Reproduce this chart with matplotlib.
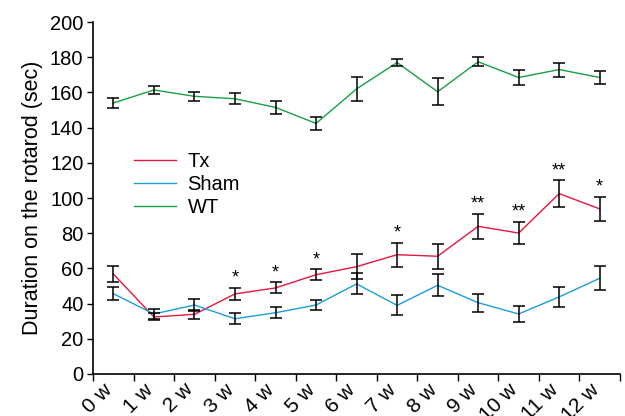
import numpy as np
import matplotlib.pyplot as plt
import matplotlib.transforms as mtransforms

plt.rcParams["font.family"] = ["Liberation Sans", "DejaVu Sans"]

weeks = [f"{i} w" for i in range(13)]
tx_mean = [56.8, 32.4, 33.9, 45.5, 48.9, 56.4, 61.0, 67.8, 66.9, 83.9, 80.1, 102.5, 93.8]
tx_err = [4.4, 2.0, 2.5, 3.5, 3.1, 3.0, 7.0, 6.8, 7.2, 7.3, 6.2, 7.5, 7.0]
sham_mean = [45.6, 34.1, 39.2, 31.4, 34.8, 39.2, 51.2, 39.0, 50.4, 40.5, 34.1, 43.8, 54.4]
sham_err = [3.8, 3.0, 3.6, 3.0, 3.1, 3.1, 6.0, 5.7, 6.2, 5.2, 4.4, 5.5, 6.7]
wt_mean = [154.0, 161.4, 157.8, 156.4, 151.5, 142.4, 162.0, 177.0, 160.4, 177.4, 168.5, 173.0, 168.5]
wt_err = [3.1, 2.4, 2.5, 3.2, 3.6, 3.5, 6.6, 2.0, 7.6, 2.5, 4.5, 4.0, 3.8]
stars = ["", "", "", "*", "*", "*", "", "*", "", "**", "**", "**", "*"]

red = "#e5173f"
blue = "#1e9ddb"
green = "#16a045"

fig = plt.figure(figsize=(6.25, 4.16), dpi=100)
ax = fig.add_axes([0.149, 0.101, 0.843, 0.846])

x = np.arange(len(weeks)) + 0.5

for mean, err, col, lab in [
    (tx_mean, tx_err, red, "Tx"),
    (sham_mean, sham_err, blue, "Sham"),
    (wt_mean, wt_err, green, "WT"),
]:
    ax.plot(x, mean, color=col, lw=1.0, label=lab, zorder=2)
    ax.errorbar(x, mean, yerr=err, fmt="none", ecolor="black",
                elinewidth=1.1, capsize=4.3, capthick=1.1, zorder=3)

for xi, m, e, s in zip(x, tx_mean, tx_err, stars):
    if s:
        ax.annotate(s, (xi, m + e), xytext=(0, 1), textcoords="offset points",
                    ha="center", va="bottom", fontsize=13)

ax.set_xlim(0, 13)
ax.set_ylim(0, 200)
ax.set_yticks(np.arange(0, 201, 20))
ax.set_xticks(np.arange(14))
ax.set_xticklabels([])
# week labels end a little right of their ticks in the original
lab_tf = ax.get_xaxis_transform() + mtransforms.ScaledTranslation(
    23 / 100, -6 / 100, fig.dpi_scale_trans)
for k, w in enumerate(weeks):
    ax.text(k, 0, w, transform=lab_tf, rotation=45, ha="right", va="top",
            fontsize=15)
ax.tick_params(axis="y", labelsize=14.5, length=4, width=1, pad=3)
ax.tick_params(axis="x", length=5, width=1)
ax.set_ylabel("Duration on the rotarod (sec)", fontsize=15.5, labelpad=5)

for side in ["top", "right"]:
    ax.spines[side].set_visible(False)
for side in ["left", "bottom"]:
    ax.spines[side].set_linewidth(1.2)

ax.legend(loc="upper left", bbox_to_anchor=(0.078, 0.63), frameon=False,
          fontsize=14.5, handlelength=2.05, handletextpad=0.6,
          labelspacing=0.2, borderpad=0, borderaxespad=0)

fig.savefig("out.png", dpi=100)
